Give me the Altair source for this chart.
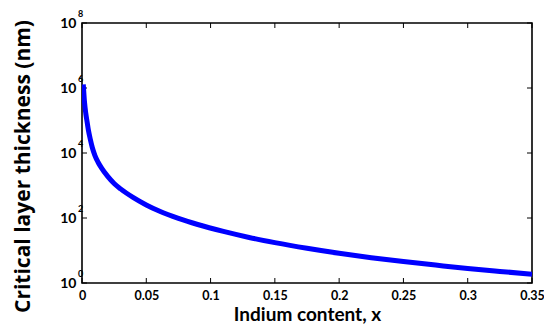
import altair as alt
import pandas as pd

# Indium content (mole fraction) and critical layer thickness (nm)
indium_x = [0.001, 0.002, 0.003, 0.004, 0.005, 0.0065, 0.008, 0.01, 0.0125, 0.015,
            0.02, 0.025, 0.03, 0.04, 0.05, 0.06, 0.075, 0.09, 0.11, 0.13,
            0.15, 0.175, 0.2, 0.225, 0.25, 0.275, 0.3, 0.325, 0.35]
thickness_nm = [1.3e6, 3.5e5, 1.6e5, 8.9e4, 5.0e4, 2.6e4, 1.48e4, 8.5e3, 5.2e3, 3.55e3,
                1.9e3, 1.15e3, 787, 423, 252, 164, 97, 63, 38.6, 25.2,
                17.5, 11.7, 8.2, 6.0, 4.57, 3.56, 2.79, 2.27, 1.87]

# axis ticks
x_ticks = [0, 0.05, 0.1, 0.15, 0.2, 0.25, 0.3, 0.35]
y_exponents = [0, 2, 4, 6, 8]
y_ticks = [10.0 ** e for e in y_exponents]

W, H = 450, 260
LABEL_FONT = "Lato"

curve = pd.DataFrame({"x": indium_x, "y": thickness_nm})
xt = pd.DataFrame({"x": x_ticks})
yt = pd.DataFrame({"y": y_ticks, "e": [str(e) for e in y_exponents]})

xscale = alt.Scale(domain=[0, 0.35], nice=False, zero=False)
yscale = alt.Scale(type="log", domain=[1, 1e8], nice=False)

line = alt.Chart(curve).mark_line(
    color="#0000ff", strokeWidth=5, clip=True, interpolate="monotone"
).encode(
    x=alt.X("x:Q", scale=xscale, axis=alt.Axis(
        values=x_ticks, title="Indium content, x", format="~g",
        tickSize=0, domain=False, grid=False, labelPadding=6,
        labelFont=LABEL_FONT, labelFontSize=12.5, labelFontWeight="bold",
        labelColor="#000", labelFlush=False,
        titleFont=LABEL_FONT, titleFontSize=19, titleFontWeight="bold",
        titleColor="#000", titlePadding=4)),
    y=alt.Y("y:Q", scale=yscale, axis=alt.Axis(
        values=y_ticks, title="Critical layer thickness (nm)",
        labelExpr="'10'", tickSize=0, domain=False, grid=False,
        labelPadding=6, labelFont=LABEL_FONT, labelFontSize=14,
        labelFontWeight="bold", labelColor="#000",
        titleFont="Open Sans", titleFontSize=21, titleFontWeight="bold",
        titleColor="#000", titleX=-59, titleY=143, titleBaseline="middle",
        titleAlign="center")),
)

# exponent of each decade label
exps = alt.Chart(yt).mark_text(
    align="left", baseline="middle", dx=-4, dy=-9,
    font=LABEL_FONT, fontSize=9, fontWeight="bold", color="#000"
).encode(x=alt.value(0), y=alt.Y("y:Q", scale=yscale), text="e:N")

# inward ticks on all four sides
tick_style = dict(color="#000", strokeWidth=1)
x_bottom = alt.Chart(xt).mark_rule(**tick_style).encode(
    x=alt.X("x:Q", scale=xscale), y=alt.value(H - 5), y2=alt.value(H))
x_top = alt.Chart(xt).mark_rule(**tick_style).encode(
    x=alt.X("x:Q", scale=xscale), y=alt.value(0), y2=alt.value(5))
y_left = alt.Chart(yt).mark_rule(**tick_style).encode(
    y=alt.Y("y:Q", scale=yscale), x=alt.value(0), x2=alt.value(5))
y_right = alt.Chart(yt).mark_rule(**tick_style).encode(
    y=alt.Y("y:Q", scale=yscale), x=alt.value(W - 5), x2=alt.value(W))

chart = alt.layer(x_bottom, x_top, y_left, y_right, line, exps).properties(
    width=W, height=H,
    autosize=alt.AutoSizeParams(type="none"),
    padding={"left": 82, "top": 23, "right": 12, "bottom": 41},
    background="white",
).configure_view(stroke="#000", strokeWidth=1.6)

chart.save("out.html", embed_options={"renderer": "svg", "actions": False})
